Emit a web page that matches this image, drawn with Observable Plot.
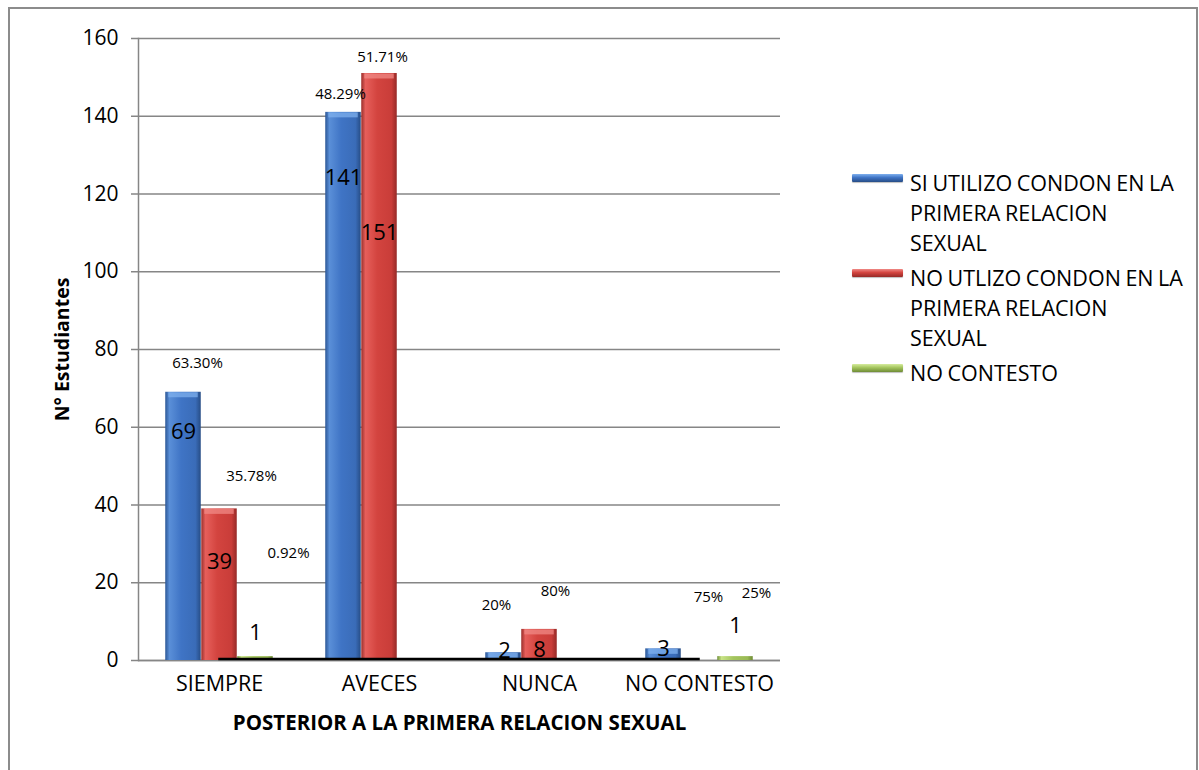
<!DOCTYPE html>
<html>
<head>
<meta charset="utf-8">
<script src="https://cdn.jsdelivr.net/npm/d3@7"></script>
<script src="https://cdn.jsdelivr.net/npm/@observablehq/plot@0.6"></script>
<style>
  html, body { margin: 0; padding: 0; background: #fff; }
  #wrap { position: relative; width: 1199px; height: 770px; overflow: hidden; font-family: "Open Sans", sans-serif; }
  #frame { position: absolute; left: 8px; top: 7px; width: 1190px; height: 820px; border: 2px solid #8c8c8c; box-sizing: border-box; }
  #chart { position: absolute; left: 0; top: 0; }
  #legend { position: absolute; left: 852px; top: 168px; }
  .item { display: flex; align-items: flex-start; margin-bottom: 5px; }
  .sw { width: 51px; height: 8px; margin-top: 6px; flex: none; border-radius: 1px; }
  .lbl { font-size: 21.5px; line-height: 30px; width: 275px; word-spacing: -1px; margin-left: 7px; color: #000; }
</style>
</head>
<body>
<div id="wrap">
  <div id="frame"></div>
  <div id="chart"></div>
  <div id="legend"></div>
</div>
<script>
// ---------- DATA ----------
const categories = ["SIEMPRE", "AVECES", "NUNCA", "NO CONTESTO"];
const seriesNames = [
  "SI UTILIZO CONDON EN LA PRIMERA RELACION SEXUAL",
  "NO UTLIZO CONDON EN LA PRIMERA RELACION SEXUAL",
  "NO CONTESTO"
];
const siValues = [69, 141, 2, 3];
const noValues = [39, 151, 8, 0];
const ncValues = [1, 0, 0, 1];
const siPct = ["63.30%", "48.29%", "20%", "75%"];
const noPct = ["35.78%", "51.71%", "80%", ""];
const ncPct = ["0.92%", "", "", "25%"];
const yTicks = [0, 20, 40, 60, 80, 100, 120, 140, 160];
const xTitle = "POSTERIOR A LA PRIMERA RELACION SEXUAL";
const yTitle = "N° Estudiantes";

// ---------- LAYOUT / STYLE ----------
const W = 1199, H = 770, mL = 138, mR = 419, mT = 38, mB = 110;
const step = (W - mL - mR) / categories.length;
const barW = 36;
const pad = (step - 3 * barW) / 2;
const grads = [
  {id: "gS0", stops: ["#2c5796", "#5a8fd8", "#3f74c5", "#3a6cb8", "#274d86"], top: "#7fb0ee"},
  {id: "gS1", stops: ["#9a2f2c", "#e65f5b", "#d3443f", "#c93d39", "#962a27"], top: "#f08a86"},
  {id: "gS2", stops: ["#71903a", "#c8e386", "#a4c55e", "#9aba55", "#6f8c36"], top: "#d6ec9e"}
];
// label nudges (px) relative to each bar's top-centre: [dx, dy]
const valueNudge = [[0, 40], [0, 53], [0, -24], [0, 66], [0, 159], null, [1, -2], [0, 21], null, [0, 0], null, [0, -31]];
const pctNudge = [[14, -29], [32, -33], [33, -103], [-3, -18], [3, -16], null, [-7, -48], [16, -38], null, [45, -52], null, [21, -63]];

const valueSets = [siValues, noValues, ncValues];
const pctSets = [siPct, noPct, ncPct];
const rows = categories.flatMap((c, i) => [0, 1, 2].map(s => ({
  cat: c, s, idx: i * 3 + s, value: valueSets[s][i], pct: pctSets[s][i]
})));

const barMarks = [0, 1, 2].flatMap(s => {
  const data = rows.filter(r => r.s === s && r.value > 0);
  const insetLeft = pad + barW * s, insetRight = step - pad - barW * (s + 1);
  return [
    Plot.barY(data, {x: "cat", y: "value", fill: `url(#${grads[s].id})`, insetLeft, insetRight}),
    Plot.tickY(data.filter(d => d.value > 1), {x: "cat", y: "value", stroke: grads[s].top, strokeWidth: 5, strokeOpacity: 0.75, dy: 2.5, insetLeft: insetLeft + 3, insetRight: insetRight + 3})
  ];
});

const labelMarks = rows.flatMap(r => {
  const out = [];
  const off = (r.s - 1) * barW;
  const vn = valueNudge[r.idx];
  if (vn && r.value > 0) out.push(Plot.text([r], {x: "cat", y: "value", text: d => String(d.value), dx: off + vn[0], dy: vn[1], fontSize: 22, fill: "black"}));
  const pn = pctNudge[r.idx];
  if (pn && r.pct) out.push(Plot.text([r], {x: "cat", y: "value", text: "pct", dx: off + pn[0], dy: pn[1], fontSize: 15, fill: "black"}));
  return out;
});

const svg = Plot.plot({
  width: W, height: H,
  marginLeft: mL, marginRight: mR, marginTop: mT, marginBottom: mB,
  style: {fontFamily: "Open Sans, sans-serif", fontSize: "20px", color: "black", background: "transparent"},
  x: {domain: categories, padding: 0, axis: null},
  y: {domain: [0, 160], axis: null},
  marks: [
    Plot.gridY(yTicks, {stroke: "#868686", strokeOpacity: 1, strokeWidth: 1.5}),
    Plot.axisY(yTicks, {anchor: "left", tickSize: 7, tickPadding: 13, label: null, fontSize: 21, tickFormat: d => String(d), stroke: "#868686", strokeWidth: 1.5}),
    Plot.frame({anchor: "left", stroke: "#868686", strokeWidth: 1.5}),
    Plot.ruleY([0], {stroke: "#868686", strokeWidth: 1.5}),
    ...barMarks,
    Plot.ruleY([0], {stroke: "black", strokeWidth: 2.5, dy: -1.5, insetLeft: step / 2, insetRight: step / 2}),
    ...labelMarks,
    Plot.text(categories, {x: d => d, frameAnchor: "bottom", dy: 30, text: d => d, fontSize: 21.5, fill: "black"}),
    Plot.text([xTitle], {frameAnchor: "bottom", dy: 69, text: d => d, fontSize: 20.5, fontWeight: "bold", fill: "black"}),
    Plot.text([yTitle], {frameAnchor: "left", dx: -76, rotate: -90, textAnchor: "middle", text: d => d, fontSize: 19.5, fontWeight: "bold", fill: "black"})
  ]
});

// gradient defs for the 3-D looking bars
const defs = d3.select(svg).insert("defs", ":first-child");
grads.forEach(g => {
  const lg = defs.append("linearGradient").attr("id", g.id).attr("x1", "0").attr("x2", "1").attr("y1", "0").attr("y2", "0");
  [0, 0.12, 0.45, 0.85, 1].forEach((o, k) => lg.append("stop").attr("offset", o).attr("stop-color", g.stops[k]));
});
d3.select(svg).selectAll('g[aria-label="y-axis tick label"] text, g[aria-label="y-axis tick label"]').attr("fill", "black");
document.getElementById("chart").appendChild(svg);

// legend
const leg = d3.select("#legend");
seriesNames.forEach((name, s) => {
  const it = leg.append("div").attr("class", "item");
  const g = grads[s];
  it.append("div").attr("class", "sw")
    .style("background", `linear-gradient(to bottom, ${g.top} 0%, ${g.stops[2]} 45%, ${g.stops[4]} 100%)`)
    .style("box-shadow", "0 1px 1px rgba(0,0,0,0.25)");
  it.append("div").attr("class", "lbl").text(name);
});
</script>
</body>
</html>
